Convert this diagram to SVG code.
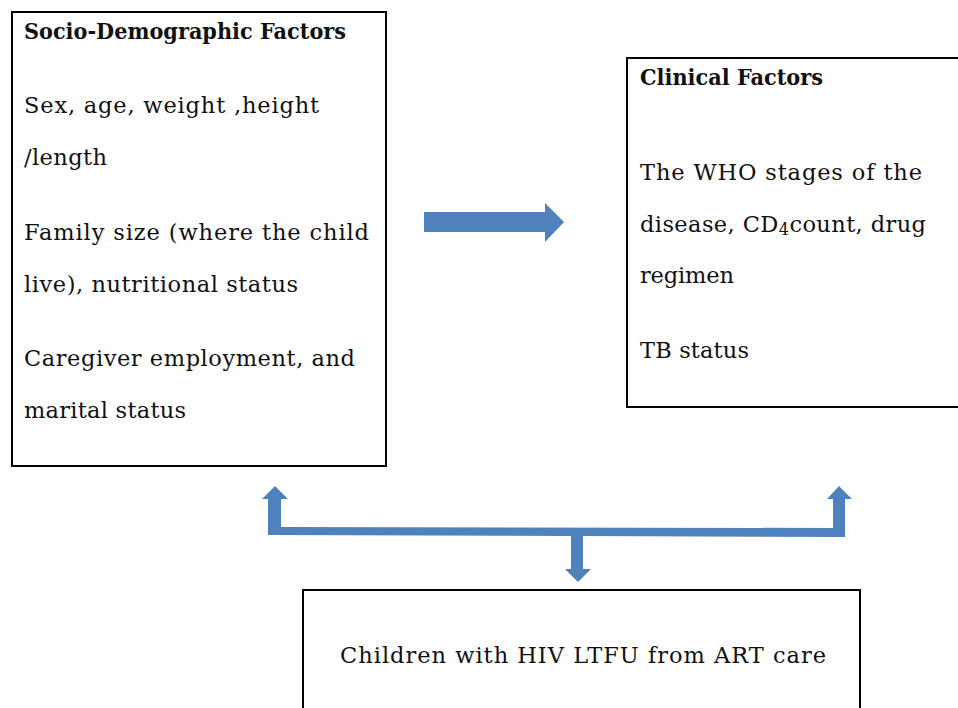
<svg xmlns="http://www.w3.org/2000/svg" width="958" height="708" viewBox="0 0 958 708">
<style>
.box{fill:#fff;stroke:#000;stroke-width:2}
.t{font-family:"DejaVu Serif","Liberation Serif",serif;font-size:22.5px;fill:#111}
.b{font-weight:bold}
.arr{fill:#4F81BD;stroke:none}
</style>
<rect width="958" height="708" fill="#fff"/>
<g id="socio-demographic">
<rect class="box" x="12" y="12" width="374" height="454"/>
<text class="t b" x="24" y="39" textLength="322" lengthAdjust="spacingAndGlyphs">Socio-Demographic Factors</text>
<text class="t" x="24" y="113" textLength="295" lengthAdjust="spacing">Sex, age, weight ,height</text>
<text class="t" x="24" y="165" textLength="83" lengthAdjust="spacing">/length</text>
<text class="t" x="24" y="240" textLength="345" lengthAdjust="spacing">Family size (where the child</text>
<text class="t" x="24" y="292" textLength="274" lengthAdjust="spacing">live), nutritional status</text>
<text class="t" x="24" y="366" textLength="331" lengthAdjust="spacing">Caregiver employment, and</text>
<text class="t" x="24" y="418" textLength="162" lengthAdjust="spacing">marital status</text>
</g>
<g id="clinical">
<rect class="box" x="627" y="58" width="340" height="349"/>
<text class="t b" x="640" y="85" textLength="183" lengthAdjust="spacingAndGlyphs">Clinical Factors</text>
<text class="t" x="640" y="180" textLength="282" lengthAdjust="spacing">The WHO stages of the</text>
<text class="t" x="640" y="232" textLength="286" lengthAdjust="spacing">disease, CD<tspan font-size="16" dy="3">4</tspan><tspan dy="-3">count, drug</tspan></text>
<text class="t" x="640" y="283" textLength="94" lengthAdjust="spacing">regimen</text>
<text class="t" x="640" y="358" textLength="109" lengthAdjust="spacing">TB status</text>
</g>
<g id="outcome">
<rect class="box" x="303" y="590" width="557" height="130"/>
<text class="t" x="340" y="663" textLength="486" lengthAdjust="spacing">Children with HIV LTFU from ART care</text>
</g>
<g id="connectors">
<path class="arr" d="M424,212 L545,212 L545,203 L564,222 L545,242 L545,232 L424,232 Z"/>
<path class="arr" d="M268,535 L268,499 L262,499 L275,486 L288,499 L281,499 L281,527 L833,528 L833,499 L827,499 L839,486 L852,499 L845,499 L845,537 L583,536 L583,569 L591,569 L578,582 L565,569 L571,569 L571,536 Z"/>
</g>
</svg>
